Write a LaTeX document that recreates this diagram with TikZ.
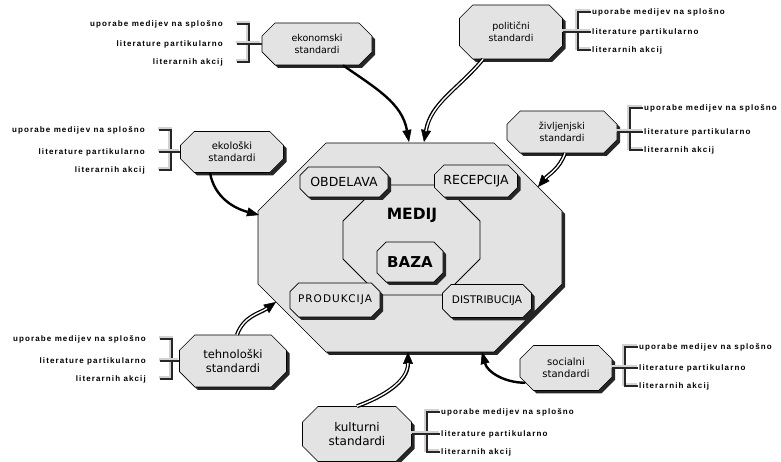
\documentclass[tikz,border=0pt]{standalone}
\usepackage{fontspec}
\setmainfont{DejaVu Sans}
\newfontfamily\lblfont[LetterSpace=14]{Liberation Sans Bold}
\usetikzlibrary{shapes.misc,shadows,arrows.meta}

\tikzset{
  stdbox/.style={chamfered rectangle, chamfered rectangle xsep=14pt, draw=black, line width=0.6pt, fill=gray!22,
    inner sep=0pt, align=center,
    drop shadow={shadow xshift=3pt, shadow yshift=-3pt, fill=black!85, opacity=1}},
  inbox/.style={stdbox, chamfered rectangle xsep=9pt,
    drop shadow={shadow xshift=2pt, shadow yshift=-2pt, fill=black!85, opacity=1}},
  lbl/.style={inner sep=0pt, font=\lblfont\fontsize{8}{9.5}\selectfont},
  brk/.style={draw=black!85, line width=1.7pt,
    preaction={draw=gray!35, line width=3.6pt, transform canvas={shift={(-1.3pt,1.3pt)}}}},
  sarrow/.style={line width=2.4pt, -{Triangle[length=12pt,width=9pt,line width=0.5pt]}},
  darrow/.style={draw=black, line width=4pt, -{Triangle[length=12pt,width=10pt,line width=0.5pt]},
    postaction={draw=white, line width=1.4pt, -, shorten >=11pt}}
}

\begin{document}
\begin{tikzpicture}[x=1pt,y=1pt]
    \useasboundingbox (0,0) rectangle (781,462);

    % Medij octagons
    \draw[line width=0.6pt, fill=gray!22, drop shadow={shadow xshift=3pt, shadow yshift=-3pt, fill=black!85, opacity=1}]
      (326,319) -- (494,319) -- (562,251) -- (562,178) -- (494,110) -- (326,110) -- (258,178) -- (258,251) -- cycle;
    \draw[line width=0.8pt] (379,277) -- (444,277) -- (480,241) -- (480,203) -- (444,167) -- (379,167) -- (343,203) -- (343,241) -- cycle;

    % Arrow targets on the octagon
    \coordinate (tEko) at (409,320);
    \coordinate (tPol) at (424,320);
    \coordinate (tZiv) at (538,275);
    \coordinate (tEkl) at (259,247);
    \coordinate (tTeh) at (276,160);
    \coordinate (tKul) at (408,110);
    \coordinate (tSoc) at (482,110);

    % Inner nodes
    \node[font=\bfseries\fontsize{15.5}{18}\selectfont] (medij) at (412,247) {MEDIJ};
    \node[inbox, minimum width=66, minimum height=40, chamfered rectangle xsep=12pt,
      font=\bfseries\fontsize{15}{18}\selectfont] (baza) at (410,200) {BAZA};
    \node[inbox, minimum width=88, minimum height=30, font=\fontsize{12.5}{15}\selectfont] (obd) at (344,280) {OBDELAVA};
    \node[inbox, minimum width=83, minimum height=32, font=\fontsize{12.5}{15}\selectfont] (rec) at (476,281) {RECEPCIJA};
    \node[inbox, minimum width=90, minimum height=34,
      font=\addfontfeature{LetterSpace=10}\fontsize{10.5}{13}\selectfont] (pro) at (335,162) {PRODUKCIJA};
    \node[inbox, minimum width=89, minimum height=33, font=\fontsize{10.5}{13}\selectfont] (dis) at (487,161) {DISTRIBUCIJA};

    % Standard nodes
    \node[stdbox, minimum width=110, minimum height=42, font=\fontsize{9.5}{11.5}\selectfont] (eko) at (317,418) {ekonomski\\standardi};
    \node[stdbox, minimum width=103, minimum height=54, chamfered rectangle xsep=16pt, font=\fontsize{9.5}{11.5}\selectfont] (pol) at (511,430) {politični\\standardi};
    \node[stdbox, minimum width=110, minimum height=42, font=\fontsize{9.5}{11.5}\selectfont] (ziv) at (562,330) {življenjski\\standardi};
    \node[stdbox, minimum width=103, minimum height=41, font=\fontsize{10}{12}\selectfont] (ekl) at (232,310) {ekološki\\standardi};
    \node[stdbox, minimum width=107, minimum height=52, chamfered rectangle xsep=16pt, font=\fontsize{11.5}{14}\selectfont] (teh) at (233,101) {tehnološki\\standardi};
    \node[stdbox, minimum width=109, minimum height=55, chamfered rectangle xsep=17pt, font=\fontsize{12}{14.5}\selectfont] (kul) at (357,28) {kulturni\\standardi};
    \node[stdbox, minimum width=92, minimum height=45, font=\fontsize{10}{12}\selectfont] (soc) at (566,94) {socialni\\standardi};

    % Lists on the left
    \foreach \bx/\vx/\m/\t in {eko/249/418/20, ekl/171/310/22, teh/172/101/22} {
      \node[lbl, anchor=east] (\bx1) at (\vx-26,\m+\t) {uporabe medijev na splošno};
      \node[lbl, anchor=east] (\bx2) at (\vx-26,\m) {literature partikularno};
      \node[lbl, anchor=east] (\bx3) at (\vx-26,\m-18) {literarnih akcij};
      \draw[brk, shorten <=14pt, shorten >=14pt] (\bx1.east) -- ++(26,0) |- (\bx3.east);
      \draw[brk, shorten >=14pt] (\bx.west) -- (\bx2.east);
    }

    % Lists on the right
    \foreach \bx/\vx/\m/\t in {pol/578/430/20, ziv/630/330/24, soc/625/94/21, kul/427/28/22} {
      \node[lbl, anchor=west] (\bx1) at (\vx+14,\m+\t) {uporabe medijev na splošno};
      \node[lbl, anchor=west] (\bx2) at (\vx+14,\m) {literature partikularno};
      \node[lbl, anchor=west] (\bx3) at (\vx+14,\m-18) {literarnih akcij};
      \draw[brk, shorten <=1pt, shorten >=1pt] (\bx1.west) -- ++(-14,0) |- (\bx3.west);
      \draw[brk, shorten >=1pt] (\bx.east) -- (\bx2.west);
    }

    % Arrows into the medij
    \draw[sarrow] ([xshift=26pt]eko.south) to[out=-35, in=100] (tEko);
    \draw[darrow] ([xshift=-28pt]pol.south) to[out=230, in=80] (tPol);
    \draw[darrow] ([xshift=3pt]ziv.south) to[out=-110, in=50] (tZiv);
    \draw[sarrow] ([xshift=-22pt]ekl.south) to[out=-80, in=165] (tEkl);
    \draw[darrow] ([xshift=4pt]teh.north) to[out=70, in=215] (tTeh);
    \draw[darrow] (kul.north) to[out=20, in=-90] (tKul);
    \draw[sarrow] (soc.200) to[out=180, in=-75] (tSoc);
\end{tikzpicture}
\end{document}
